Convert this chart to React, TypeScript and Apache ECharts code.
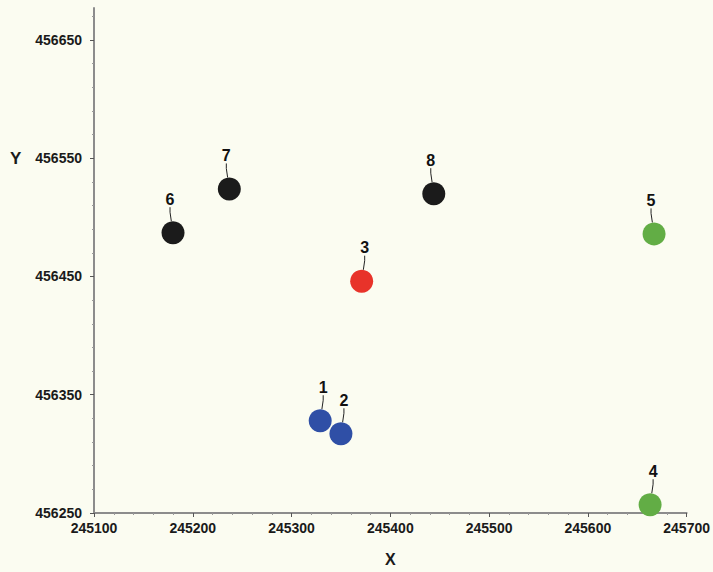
import React, { useEffect, useRef } from "react";
import * as echarts from "echarts";

const pointIds = ["1", "2", "3", "4", "5", "6", "7", "8"];
const xValues = [245329, 245350, 245371, 245663, 245667, 245180, 245237, 245444];
const yValues = [456328, 456317, 456446, 456257, 456486, 456487, 456524, 456520];
const groups = ["blue", "blue", "red", "green", "green", "black", "black", "black"];
const xTicks = [245100, 245200, 245300, 245400, 245500, 245600, 245700];
const yTicks = [456250, 456350, 456450, 456550, 456650];

const groupColors: Record<string, string> = {
  blue: "#2f4fa6",
  red: "#e8332a",
  green: "#62ad45",
  black: "#1b1b1b",
};

export default function App() {
  const ref = useRef<HTMLDivElement>(null);
  useEffect(() => {
    if (!ref.current) return;
    const chart = echarts.init(ref.current, null, { renderer: "svg" });
    const font = "'Liberation Sans', Arial, sans-serif";
    const data = pointIds.map((id, i) => ({
      value: [xValues[i], yValues[i]],
      name: id,
      itemStyle: { color: groupColors[groups[i]], opacity: 1 },
    }));
    chart.setOption({
      animation: false,
      backgroundColor: "#fbfcf1",
      grid: { left: 94, right: 25, top: 8, bottom: 59 },
      xAxis: {
        type: "value",
        min: 245100,
        max: 245700,
        interval: 100,
        name: "X",
        nameLocation: "middle",
        nameGap: 38,
        nameTextStyle: { fontFamily: font, fontWeight: "bold", fontSize: 16, color: "#1a1a1a" },
        axisLine: { show: true, lineStyle: { color: "#8c8c8c", width: 2 } },
        axisTick: { show: true, length: 4, lineStyle: { color: "#555" } },
        minorTick: { show: true, splitNumber: 5, length: 2, lineStyle: { color: "#999" } },
        splitLine: { show: false },
        axisLabel: {
          customValues: xTicks,
          formatter: (v: number) => String(v),
          margin: 8,
          fontFamily: font,
          fontWeight: "bold",
          fontSize: 14,
          color: "#1a1a1a",
        },
      },
      yAxis: {
        type: "value",
        min: 456250,
        max: 456677,
        interval: 100,
        axisLine: { show: true, lineStyle: { color: "#8c8c8c", width: 2 } },
        axisTick: { show: true, length: 4, customValues: yTicks, lineStyle: { color: "#555" } },
        minorTick: { show: true, splitNumber: 5, length: 2, lineStyle: { color: "#999" } },
        splitLine: { show: false },
        axisLabel: {
          customValues: yTicks,
          formatter: (v: number) => String(v),
          margin: 12,
          fontFamily: font,
          fontWeight: "bold",
          fontSize: 14,
          color: "#1a1a1a",
        },
      },
      graphic: [
        {
          type: "text",
          left: 10,
          top: 150,
          style: { text: "Y", fontFamily: font, fontWeight: "bold", fontSize: 17, fill: "#1a1a1a" },
        },
      ],
      series: [
        {
          type: "scatter",
          symbolSize: 23,
          data,
          itemStyle: { opacity: 1 },
          label: {
            show: true,
            position: "top",
            distance: 2,
            formatter: "{b}",
            fontFamily: font,
            fontWeight: "bold",
            fontSize: 16,
            color: "#111",
          },
          labelLayout: (p: any) => ({ dx: p.dataIndex < 4 ? 3 : -3, dy: -12 }),
          labelLine: { show: true, length2: 5, lineStyle: { color: "#222", width: 1 } },
        },
      ],
    });
    return () => chart.dispose();
  }, []);
  return <div ref={ref} style={{ width: 713, height: 572, position: "absolute", left: 0, top: 0 }} />;
}
